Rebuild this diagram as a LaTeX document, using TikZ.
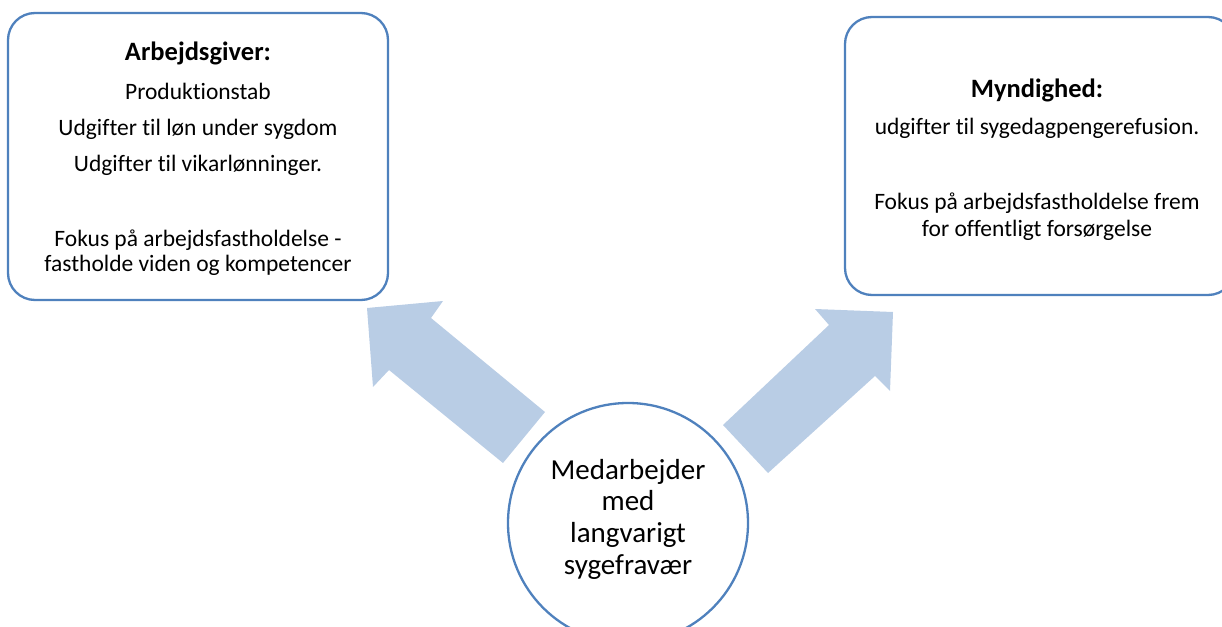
\documentclass[tikz,border=0pt]{standalone}
\usepackage{fontspec}
\setmainfont{Carlito}[Ligatures=CommonOff]
\usepackage{tikz}
\usetikzlibrary{positioning}
\definecolor{boxline}{HTML}{4F81BD}
\definecolor{arrowfill}{HTML}{B9CDE5}
\newcommand{\boxhead}[1]{{\fontsize{26.5}{25}\selectfont\bfseries #1}}
\tikzset{infobox/.style={draw=boxline, line width=2.3pt, rounded corners=27pt,
      fill=white, align=center, inner sep=0pt,
      font=\fontsize{23.5}{25}\selectfont}}
\tikzset{worker/.style={circle, draw=boxline, line width=2.3pt, fill=white,
      minimum size=240pt, inner sep=0pt}}
\tikzset{workertext/.style={align=center, inner sep=0pt,
      font=\fontsize{29}{31.7}\selectfont}}
\tikzset{blockarrow/.style={fill=arrowfill}}

\begin{document}
\begin{tikzpicture}[x=1pt,y=-1pt]
		\useasboundingbox (0,0) rectangle (1222,626);
		\node[infobox, minimum width=380pt, minimum height=287pt] (giver) at (198,156.5) {};
		\node[align=center, inner sep=0pt, font=\fontsize{23.5}{25}\selectfont] (givertext) at (198,158.5)
			{\boxhead{Arbejdsgiver:}\\[14pt] Produktionstab\\[11pt] Udgifter til løn under sygdom\\[11pt]
			 Udgifter til vikarlønninger.\\[50pt] Fokus på arbejdsfastholdelse -\\ fastholde viden og kompetencer};
		\node[infobox, minimum width=390pt, minimum height=278pt] (myndighed) at (1040,156) {};
		\node[align=center, inner sep=0pt, font=\fontsize{23.5}{25}\selectfont] (myndighedtext) at (1037,159.5)
			{\boxhead{Myndighed:}\\[12pt] udgifter til sygedagpengerefusion.\\[50pt]
			 Fokus på arbejdsfastholdelse frem\\[2pt] for offentligt forsørgelse};
		\fill[blockarrow] (367,308) -- (443,301) -- (431,318) -- (545,412) -- (503,463) -- (389,370) -- (373,387) -- cycle;
		\fill[blockarrow] (893,312) -- (890,391) -- (875,376) -- (768,473) -- (723,425) -- (829,325) -- (815,309) -- cycle;
		\node[worker] (medarb) at (628,523) {};
		\node[workertext] (medarbtext) at ([yshift=4pt]medarb.center) {Medarbejder\\ med\\ langvarigt\\ sygefravær};
		\end{tikzpicture}
\end{document}
